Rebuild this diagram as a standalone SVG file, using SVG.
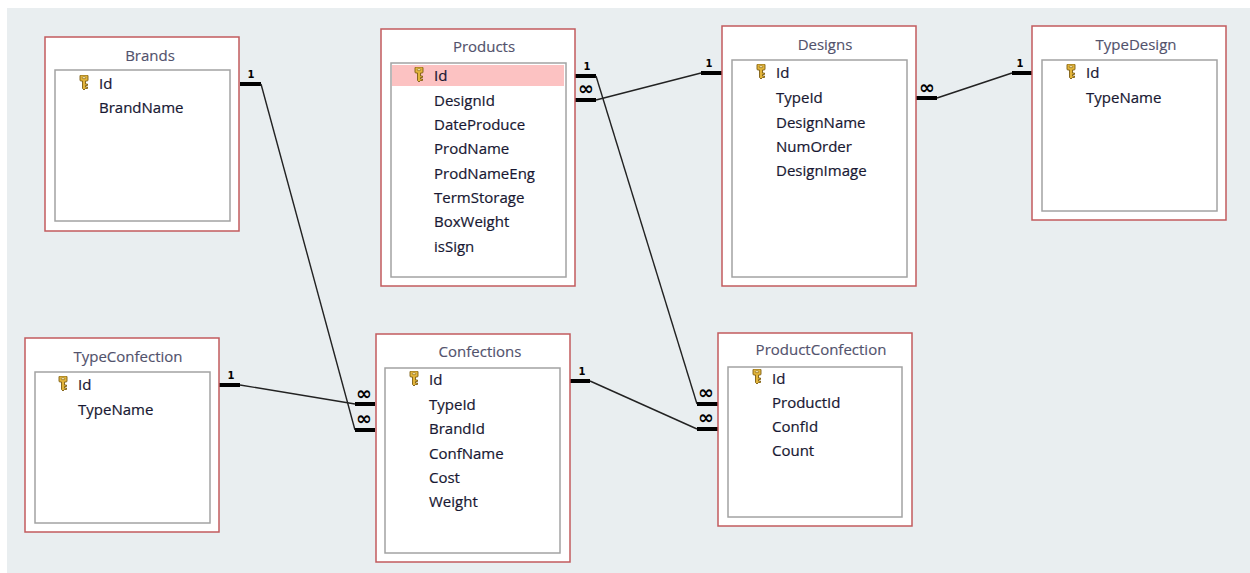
<svg xmlns="http://www.w3.org/2000/svg" width="1250" height="573" viewBox="0 0 1250 573">
<style>
.bg{fill:#e9eef0}
.outer{fill:#ffffff;stroke:#c25b5d;stroke-width:1.5}
.inner{fill:#ffffff;stroke:#a3a3a3;stroke-width:1.5}
.title{font-family:"Open Sans","Noto Sans",sans-serif;font-size:15px;fill:#52526c;text-anchor:middle;stroke:#52526c;stroke-width:0.15}
.f{font-family:"Open Sans","Noto Sans",sans-serif;font-size:15px;fill:#181832;stroke:#181832;stroke-width:0.2}
.ln{stroke:#222;stroke-width:1.4;fill:none}
.stub{stroke:#000;stroke-width:4;fill:none}
.one{font-family:"DejaVu Sans",sans-serif;font-size:10px;font-weight:bold;fill:#000;text-anchor:middle}
.many{font-family:"DejaVu Sans",sans-serif;font-size:19px;font-weight:bold;fill:#000;text-anchor:middle}
.hl{fill:#fcc2c2}
</style>
<defs>
<symbol id="key" viewBox="0 0 10 15" width="10" height="15">
<path d="M1,1 Q1,0 2,0 L8,0 Q9,0 9,1 L9,5 Q9,6 8,6 L6.5,6 L6.5,9 L8.5,9 L8.5,10.5 L6.5,10.5 L6.5,12 L8.5,12 L8.5,13.5 L6.5,13.5 L5,15 L3.5,13.5 L3.5,6 L2,6 Q1,6 1,5 Z" fill="#e2b43a" stroke="#7d5d12" stroke-width="0.9"/>
<rect x="3.3" y="1.8" width="3.4" height="1.8" rx="0.8" fill="#fff3c0" stroke="#7d5d12" stroke-width="0.6"/>
</symbol>
</defs>
<rect x="0" y="0" width="1250" height="573" fill="#ffffff"/>
<rect class="bg" x="7" y="8" width="1243" height="565"/>

<g id="connectors">
  <!-- Brands.Id -> Confections.BrandId -->
  <line class="stub" x1="240" y1="84" x2="261" y2="84"/>
  <text class="one" x="251" y="78">1</text>
  <polyline class="ln" points="261,84 355,430"/>
  <line class="stub" x1="355" y1="430" x2="375" y2="430"/>
  <text class="many" x="364" y="425">∞</text>
  <!-- TypeConfection.Id -> Confections.TypeId -->
  <line class="stub" x1="219" y1="385" x2="240" y2="385"/>
  <text class="one" x="231" y="379">1</text>
  <polyline class="ln" points="240,385 355,404"/>
  <line class="stub" x1="355" y1="404" x2="375" y2="404"/>
  <text class="many" x="364" y="400">∞</text>
  <!-- Products.Id -> ProductConfection.ProductId -->
  <line class="stub" x1="575" y1="76" x2="596" y2="76"/>
  <text class="one" x="587" y="70">1</text>
  <polyline class="ln" points="596,76 697,404"/>
  <line class="stub" x1="697" y1="404" x2="718" y2="404"/>
  <text class="many" x="706" y="399">∞</text>
  <!-- Confections.Id -> ProductConfection.ConfId -->
  <line class="stub" x1="570" y1="381" x2="590" y2="381"/>
  <text class="one" x="582" y="375">1</text>
  <polyline class="ln" points="590,381 697,429"/>
  <line class="stub" x1="697" y1="429" x2="718" y2="429"/>
  <text class="many" x="706" y="424">∞</text>
  <!-- Designs.Id -> Products.DesignId -->
  <line class="stub" x1="575" y1="100" x2="596" y2="100"/>
  <text class="many" x="586" y="95">∞</text>
  <polyline class="ln" points="596,100 701,73"/>
  <line class="stub" x1="701" y1="73" x2="722" y2="73"/>
  <text class="one" x="709" y="67">1</text>
  <!-- TypeDesign.Id -> Designs.TypeId -->
  <line class="stub" x1="916" y1="98" x2="937" y2="98"/>
  <text class="many" x="927" y="94">∞</text>
  <polyline class="ln" points="937,98 1012,73"/>
  <line class="stub" x1="1012" y1="73" x2="1032" y2="73"/>
  <text class="one" x="1020" y="67">1</text>
</g>

<g id="Brands">
  <rect class="outer" x="45" y="37" width="194" height="194"/>
  <rect class="inner" x="55" y="70" width="175" height="151"/>
  <text class="title" x="150" y="61">Brands</text>
  <use href="#key" x="79" y="75"/>
  <text class="f" x="99" y="89">Id</text>
  <text class="f" x="99" y="113">BrandName</text>
</g>

<g id="Products">
  <rect class="outer" x="381" y="29" width="194" height="257"/>
  <rect class="inner" x="391" y="63" width="175" height="214"/>
  <rect class="hl" x="392" y="65" width="172" height="21"/>
  <text class="title" x="484" y="52">Products</text>
  <use href="#key" x="414" y="67"/>
  <text class="f" x="434" y="81">Id</text>
  <text class="f" x="434" y="105.5">DesignId</text>
  <text class="f" x="434" y="130">DateProduce</text>
  <text class="f" x="434" y="154">ProdName</text>
  <text class="f" x="434" y="178.5">ProdNameEng</text>
  <text class="f" x="434" y="203">TermStorage</text>
  <text class="f" x="434" y="227">BoxWeight</text>
  <text class="f" x="434" y="251.5">isSign</text>
</g>

<g id="Designs">
  <rect class="outer" x="722" y="26" width="194" height="260"/>
  <rect class="inner" x="732" y="60" width="175" height="217"/>
  <text class="title" x="825" y="50">Designs</text>
  <use href="#key" x="756" y="64"/>
  <text class="f" x="776" y="78">Id</text>
  <text class="f" x="776" y="103">TypeId</text>
  <text class="f" x="776" y="127.5">DesignName</text>
  <text class="f" x="776" y="151.5">NumOrder</text>
  <text class="f" x="776" y="176">DesignImage</text>
</g>

<g id="TypeDesign">
  <rect class="outer" x="1032" y="26" width="194" height="194"/>
  <rect class="inner" x="1042" y="60" width="175" height="151"/>
  <text class="title" x="1136" y="50">TypeDesign</text>
  <use href="#key" x="1066" y="64"/>
  <text class="f" x="1086" y="78">Id</text>
  <text class="f" x="1086" y="103">TypeName</text>
</g>

<g id="TypeConfection">
  <rect class="outer" x="25" y="338" width="194" height="194"/>
  <rect class="inner" x="35" y="372" width="175" height="151"/>
  <text class="title" x="128" y="362">TypeConfection</text>
  <use href="#key" x="58" y="376"/>
  <text class="f" x="78" y="390">Id</text>
  <text class="f" x="78" y="414.5">TypeName</text>
</g>

<g id="Confections">
  <rect class="outer" x="376" y="334" width="194" height="228"/>
  <rect class="inner" x="385" y="368" width="175" height="185"/>
  <text class="title" x="480" y="357">Confections</text>
  <use href="#key" x="409" y="371"/>
  <text class="f" x="429" y="385">Id</text>
  <text class="f" x="429" y="410">TypeId</text>
  <text class="f" x="429" y="434">BrandId</text>
  <text class="f" x="429" y="458.5">ConfName</text>
  <text class="f" x="429" y="483">Cost</text>
  <text class="f" x="429" y="507">Weight</text>
</g>

<g id="ProductConfection">
  <rect class="outer" x="718" y="333" width="194" height="193"/>
  <rect class="inner" x="728" y="367" width="174" height="150"/>
  <text class="title" x="821" y="355">ProductConfection</text>
  <use href="#key" x="752" y="369"/>
  <text class="f" x="772" y="383.5">Id</text>
  <text class="f" x="772" y="407.5">ProductId</text>
  <text class="f" x="772" y="432">ConfId</text>
  <text class="f" x="772" y="456">Count</text>
</g>
</svg>
